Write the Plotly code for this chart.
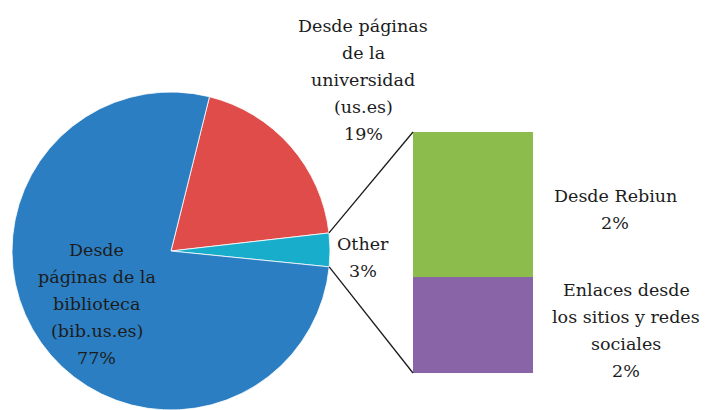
import math
import plotly.graph_objects as go

# ---- data ----
pie_labels = ["Desde páginas de la universidad (us.es)", "Other", "Desde páginas de la biblioteca (bib.us.es)"]
pie_values = [19.3, 3.4, 77.3]
pie_pct = ["19%", "3%", "77%"]
pie_colors = ["#E04C4A", "#18AECB", "#2B7EC2"]
pie_label_lines = [
    ["Desde páginas", "de la", "universidad", "(us.es)"],
    ["Other"],
    ["Desde", "páginas de la", "biblioteca", "(bib.us.es)"],
]

bar_labels = ["Enlaces desde los sitios y redes sociales", "Desde Rebiun"]
bar_values = [1.35, 2.05]
bar_pct = ["2%", "2%"]
bar_colors = ["#8964A6", "#8CBC4C"]
bar_label_lines = [
    ["Enlaces desde", "los sitios y redes", "sociales"],
    ["Desde Rebiun"],
]

W, H = 708, 410
FONT = "DejaVu Serif"
FS = 17.5
LINE = 27
TXT = "#1c1c1c"

# pie geometry (paper)
pie_dom_x = [11 / W, 331 / W]
pie_dom_y = [0.0, 318 / H]
rotation = 14

# bar geometry
bar_dom_x = [413 / W, 533 / W]
bar_dom_y = [(H - 373) / H, (H - 132) / H]

fig = go.Figure()
fig.add_trace(go.Pie(
    labels=pie_labels, values=pie_values, sort=False, direction="clockwise",
    rotation=rotation, marker=dict(colors=pie_colors, line=dict(color="white", width=0.8)),
    textinfo="none", hoverinfo="label+percent", showlegend=False,
    domain=dict(x=pie_dom_x, y=pie_dom_y),
))

for lab, v, c in zip(bar_labels, bar_values, bar_colors):
    fig.add_trace(go.Bar(x=[0], y=[v], name=lab, marker=dict(color=c, line=dict(width=0)),
                         width=1, showlegend=False, xaxis="x", yaxis="y"))

total_other = sum(bar_values)
fig.update_layout(
    width=W, height=H, margin=dict(l=0, r=0, t=0, b=0),
    paper_bgcolor="white", plot_bgcolor="rgba(0,0,0,0)",
    barmode="stack",
    xaxis=dict(domain=bar_dom_x, range=[-0.5, 0.5], visible=False, fixedrange=True),
    yaxis=dict(domain=bar_dom_y, range=[0, total_other], visible=False, fixedrange=True),
    font=dict(family=FONT, color=TXT, size=FS),
)

# connector lines computed from pie geometry
pw = (pie_dom_x[1] - pie_dom_x[0]) * W
ph = (pie_dom_y[1] - pie_dom_y[0]) * H
R = min(pw, ph) / 2
cx = (pie_dom_x[0] + pie_dom_x[1]) / 2 * W
cy = H - (pie_dom_y[0] + pie_dom_y[1]) / 2 * H
tot = sum(pie_values)
a0 = math.radians(rotation + 360 * pie_values[0] / tot)
a1 = math.radians(rotation + 360 * (pie_values[0] + pie_values[1]) / tot)
def pt(a):
    px = cx + R * math.sin(a)
    py = cy - R * math.cos(a)
    return px / W, 1 - py / H
p0 = pt(a0)
p1 = pt(a1)
fig.add_shape(type="line", xref="paper", yref="paper", x0=p0[0], y0=p0[1], x1=bar_dom_x[0], y1=bar_dom_y[1],
              line=dict(color="#1a1a1a", width=1.3))
fig.add_shape(type="line", xref="paper", yref="paper", x0=p1[0], y0=p1[1], x1=bar_dom_x[0], y1=bar_dom_y[0],
              line=dict(color="#1a1a1a", width=1.3))

def ann(lines, x, yc):
    n = len(lines)
    for i, t in enumerate(lines):
        y = yc + (i - (n - 1) / 2) * LINE
        fig.add_annotation(text=t, x=x / W, y=1 - y / H, xref="paper", yref="paper",
                           xanchor="center", yanchor="middle", showarrow=False,
                           font=dict(family=FONT, size=FS, color=TXT))

ann(pie_label_lines[0] + [pie_pct[0]], 363, 80)
ann(pie_label_lines[1] + [pie_pct[1]], 363, 257)
ann(pie_label_lines[2] + [pie_pct[2]], 97, 304)
ann(bar_label_lines[1] + [bar_pct[1]], 615, 209)
ann(bar_label_lines[0] + [bar_pct[0]], 626, 330)

fig.write_html("out.html", config={"displayModeBar": False},
               post_script="document.body.style.margin='0';document.body.style.overflow='hidden';")
